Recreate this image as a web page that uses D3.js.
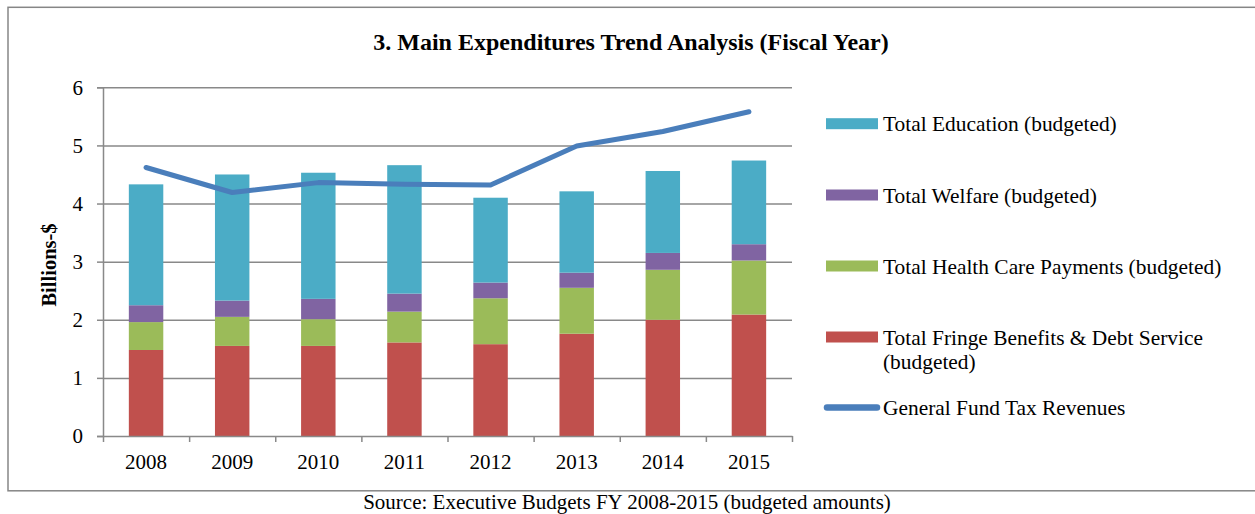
<!DOCTYPE html>
<html>
<head>
<meta charset="utf-8">
<script src="https://cdn.jsdelivr.net/npm/d3@7"></script>
<style>
  html, body { margin: 0; padding: 0; background: #fff; }
  svg { display: block; }
  text { font-family: "Liberation Serif", "Times New Roman", serif; fill: #000; }
</style>
</head>
<body>
<svg id="chart" width="1255" height="514"></svg>
<script>
const years = ["2008", "2009", "2010", "2011", "2012", "2013", "2014", "2015"];
const fringe = [1.48, 1.55, 1.55, 1.61, 1.58, 1.76, 2.00, 2.09];
const health = [0.48, 0.50, 0.46, 0.53, 0.79, 0.79, 0.86, 0.93];
const welfare = [0.29, 0.28, 0.35, 0.31, 0.27, 0.26, 0.29, 0.28];
const education = [2.08, 2.17, 2.17, 2.21, 1.46, 1.40, 1.41, 1.44];
const revenue = [4.62, 4.19, 4.36, 4.33, 4.32, 4.99, 5.24, 5.58];
const yTicks = [0, 1, 2, 3, 4, 5, 6];

const seriesNames = [
  "Total Fringe Benefits & Debt Service (budgeted)",
  "Total Health Care Payments (budgeted)",
  "Total Welfare (budgeted)",
  "Total Education (budgeted)"
];
const lineName = "General Fund Tax Revenues";
const titleText = "3. Main Expenditures Trend Analysis (Fiscal Year)";
const yTitle = "Billions-$";
const sourceText = "Source: Executive Budgets FY 2008-2015 (budgeted amounts)";

const colors = ["#C0504D", "#9BBB59", "#8064A2", "#4BACC6"];
const lineColor = "#4A7EBB";
const gridColor = "#898989";

const svg = d3.select("#chart");

// outer border (right side runs off the canvas)
svg.append("rect")
  .attr("x", 8).attr("y", 7.3)
  .attr("width", 1270).attr("height", 483.5)
  .attr("fill", "none").attr("stroke", "#868686").attr("stroke-width", 1.5);

const plot = { left: 103, right: 792, top: 87.3, bottom: 436 };

const x = d3.scaleBand().domain(years).range([plot.left, plot.right]).paddingInner(0).paddingOuter(0);
const xb = d3.scaleLinear().domain([0, years.length]).range([plot.left, plot.right]);
const y = d3.scaleLinear().domain([0, 6]).range([plot.bottom, plot.top]);

// gridlines
svg.append("g")
  .attr("transform", `translate(${plot.left},0)`)
  .call(d3.axisLeft(y).tickValues(yTicks.slice(1)).tickSize(-(plot.right - plot.left)).tickFormat(""))
  .call(g => g.select(".domain").remove())
  .call(g => g.selectAll("line").attr("stroke", gridColor).attr("stroke-width", 1.5));

// stacked data
const rows = years.map((yr, i) => ({ year: yr, s0: fringe[i], s1: health[i], s2: welfare[i], s3: education[i] }));
const stack = d3.stack().keys(["s0", "s1", "s2", "s3"]);
const stacked = stack(rows);

const barW = x.bandwidth() / 2.5;
svg.append("g").selectAll("g")
  .data(stacked).join("g")
  .attr("fill", (d, i) => colors[i])
  .selectAll("rect")
  .data(d => d).join("rect")
  .attr("x", d => x(d.data.year) + (x.bandwidth() - barW) / 2)
  .attr("width", barW)
  .attr("y", d => y(d[1]))
  .attr("height", d => y(d[0]) - y(d[1]));

// y axis
svg.append("g")
  .attr("transform", `translate(${plot.left},0)`)
  .call(d3.axisLeft(y).tickValues(yTicks).tickSize(6).tickPadding(14).tickFormat(d3.format("d")))
  .call(g => g.select(".domain").attr("stroke", gridColor).attr("stroke-width", 1.5))
  .call(g => g.selectAll("line").attr("stroke", gridColor).attr("stroke-width", 1.5))
  .call(g => g.selectAll("text").attr("font-family", "Liberation Serif").attr("font-size", 21).attr("fill", "#000"));

// x axis: boundary ticks
svg.append("g")
  .attr("transform", `translate(0,${plot.bottom})`)
  .call(d3.axisBottom(xb).tickValues(d3.range(years.length + 1)).tickSize(6).tickFormat("").tickSizeOuter(0))
  .call(g => g.select(".domain").attr("stroke", gridColor).attr("stroke-width", 1.5))
  .call(g => g.selectAll("line").attr("stroke", gridColor).attr("stroke-width", 1.5));

// x axis labels
svg.append("g")
  .attr("transform", `translate(0,${plot.bottom})`)
  .call(d3.axisBottom(x).tickSize(0).tickPadding(18))
  .call(g => g.select(".domain").remove())
  .call(g => g.selectAll("text").attr("font-family", "Liberation Serif").attr("font-size", 21).attr("fill", "#000"));

// line
const line = d3.line()
  .x((d, i) => x(years[i]) + x.bandwidth() / 2)
  .y(d => y(d));
svg.append("path")
  .datum(revenue)
  .attr("d", line)
  .attr("fill", "none")
  .attr("stroke", lineColor)
  .attr("stroke-width", 5)
  .attr("stroke-linejoin", "round")
  .attr("stroke-linecap", "round");

// title
svg.append("text")
  .attr("x", 631).attr("y", 50)
  .attr("text-anchor", "middle")
  .attr("font-weight", "bold")
  .attr("font-size", 24)
  .text(titleText);

// y-axis title
svg.append("text")
  .attr("transform", "translate(56,265) rotate(-90)")
  .attr("text-anchor", "middle")
  .attr("font-weight", "bold")
  .attr("font-size", 20.5)
  .text(yTitle);

// source
svg.append("text")
  .attr("x", 627).attr("y", 509)
  .attr("text-anchor", "middle")
  .attr("font-size", 21)
  .text(sourceText);

// legend
const legendItems = [
  { color: colors[3], type: "rect", cy: 123.7, lines: ["Total Education (budgeted)"] },
  { color: colors[2], type: "rect", cy: 195, lines: ["Total Welfare (budgeted)"] },
  { color: colors[1], type: "rect", cy: 266, lines: ["Total Health Care Payments (budgeted)"] },
  { color: colors[0], type: "rect", cy: 337, lines: ["Total Fringe Benefits & Debt Service", "(budgeted)"] },
  { color: lineColor, type: "line", cy: 407.5, lines: [lineName] }
];
const lg = svg.append("g");
legendItems.forEach(it => {
  if (it.type === "rect") {
    lg.append("rect").attr("x", 826).attr("y", it.cy - 5.5).attr("width", 52).attr("height", 11).attr("fill", it.color);
  } else {
    lg.append("line").attr("x1", 827).attr("x2", 877).attr("y1", it.cy).attr("y2", it.cy)
      .attr("stroke", it.color).attr("stroke-width", 6.5).attr("stroke-linecap", "round");
  }
  const t = lg.append("text").attr("x", 883).attr("y", it.cy + 7.5).attr("font-size", 21.4);
  it.lines.forEach((l, k) => {
    t.append("tspan").attr("x", 883).attr("dy", k === 0 ? 0 : 24).text(l);
  });
});
</script>
</body>
</html>
